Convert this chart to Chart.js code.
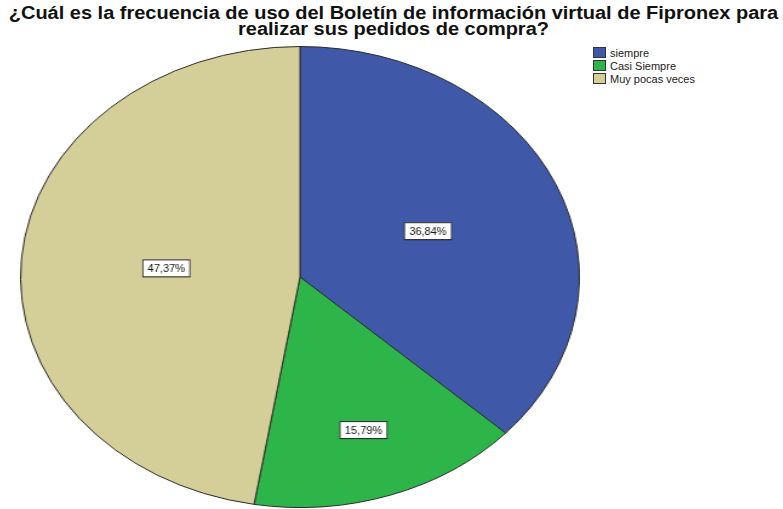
<!DOCTYPE html>
<html>
<head>
<meta charset="utf-8">
<script src="https://cdn.jsdelivr.net/npm/chart.js@4"></script>
<style>
  body { margin: 0; background: #fff; width: 783px; height: 509px; overflow: hidden; position: relative; font-family: "Liberation Sans", Arial, sans-serif; }
  #title { position: absolute; left: 2px; top: 5px; width: 783px; text-align: center; font-weight: bold; font-size: 18px; line-height: 16px; color: #111; transform: scaleX(1.11); transform-origin: 50% 0; }
  #pie-wrap { position: absolute; left: 20px; top: 46px; width: 462px; height: 462px; transform-origin: 0 0; }
  #legend { position: absolute; left: 593px; top: 47px; font-size: 11px; color: #222; }
  .item { height: 13px; line-height: 13px; white-space: nowrap; }
  .swatch { display: inline-block; width: 11px; height: 9px; border: 1px solid #333; vertical-align: -1px; margin-right: 4px; }
</style>
</head>
<body>
<div id="title">¿Cuál es la frecuencia de uso del Boletín de información virtual de Fipronex para<br>realizar sus pedidos de compra?</div>
<div id="pie-wrap"><canvas id="pie"></canvas></div>
<div id="legend"></div>
<script>
// Data
const categories = ['siempre', 'Casi Siempre', 'Muy pocas veces'];
const percentages = [36.84, 15.79, 47.37];
const sliceColors = ['#3f58a8', '#2db549', '#d4cf99'];

// The SPSS pie is an ellipse, so the square chart gets stretched sideways
const stretchX = 560 / 462;
document.getElementById('pie-wrap').style.transform = `scaleX(${stretchX})`;

// Where each label sits along its slice, as a share of the radius
const labelDepth = [0.5, 0.7, 0.48];

function formatPct(v) {
    return v.toFixed(2).replace('.', ',') + '%';
}

// Boxed percentage labels, drawn un-stretched
const boxLabels = {
    id: 'boxLabels',
    afterDatasetsDraw(chart) {
        const ctx = chart.ctx;
        const meta = chart.getDatasetMeta(0);
        meta.data.forEach((arc, i) => {
            const mid = (arc.startAngle + arc.endAngle) / 2;
            const r = arc.outerRadius * labelDepth[i];
            const x = arc.x + Math.cos(mid) * r;
            const y = arc.y + Math.sin(mid) * r;
            const text = formatPct(percentages[i]);
            ctx.save();
            ctx.translate(x, y);
            ctx.scale(1 / stretchX, 1);
            ctx.font = '11px "Liberation Sans", Arial, sans-serif';
            const w = ctx.measureText(text).width + 10;
            const h = 17;
            ctx.fillStyle = '#fff';
            ctx.fillRect(-w / 2, -h / 2, w, h);
            ctx.strokeStyle = '#222';
            ctx.lineWidth = 1;
            ctx.strokeRect(Math.round(-w / 2) + 0.5, -h / 2 + 0.5, Math.round(w), h);
            ctx.fillStyle = '#111';
            ctx.textAlign = 'center';
            ctx.textBaseline = 'middle';
            ctx.fillText(text, 0, 1);
            ctx.restore();
        });
    }
};

new Chart(document.getElementById('pie'), {
    type: 'pie',
    data: {
        labels: categories,
        datasets: [{
            data: percentages,
            backgroundColor: sliceColors,
            borderColor: '#2a2a2a',
            borderWidth: 1
        }]
    },
    options: {
        responsive: true,
        maintainAspectRatio: false,
        animation: false,
        layout: { padding: 0 },
        plugins: {
            legend: { display: false },
            tooltip: { enabled: false }
        }
    },
    plugins: [boxLabels]
});

// Legend on the right
const legend = document.getElementById('legend');
categories.forEach((name, i) => {
    const row = document.createElement('div');
    row.className = 'item';
    row.innerHTML = `<span class="swatch" style="background:${sliceColors[i]}"></span>${name}`;
    legend.appendChild(row);
});
</script>
</body>
</html>
